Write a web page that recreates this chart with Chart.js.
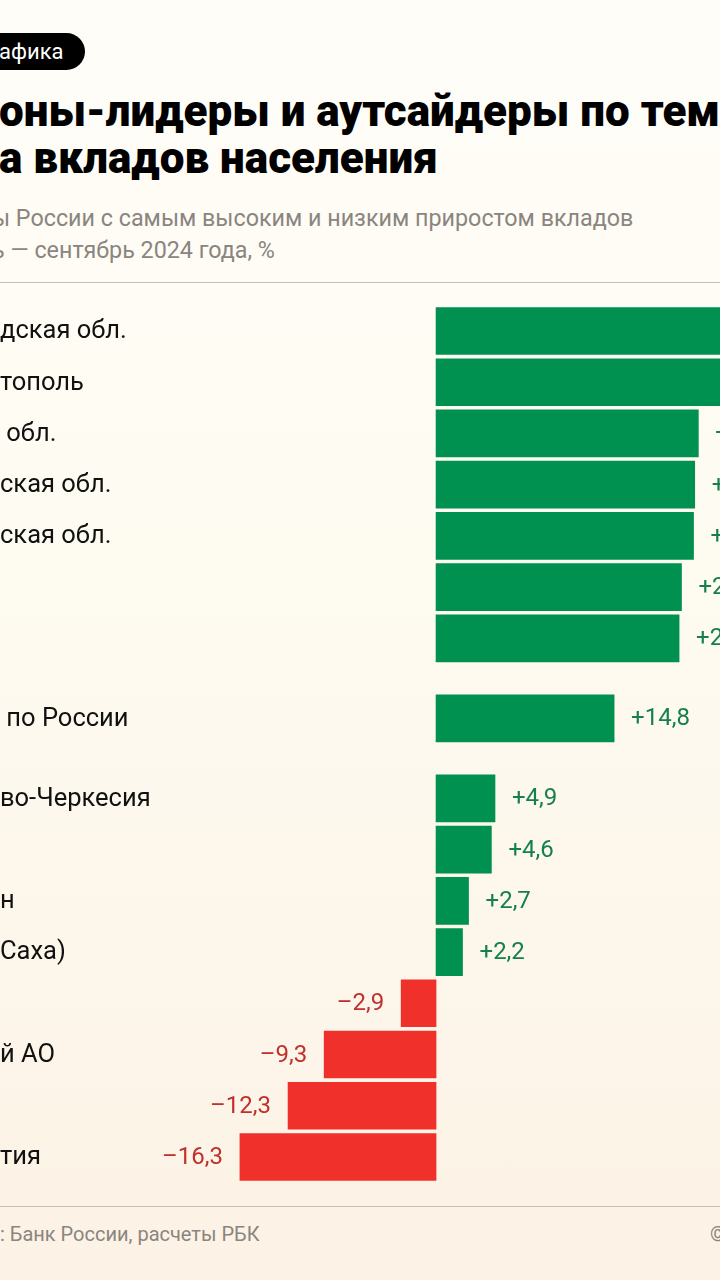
<!DOCTYPE html>
<html lang="ru">
<head>
<meta charset="utf-8">
<script src="https://cdn.jsdelivr.net/npm/chart.js@4/dist/chart.umd.min.js"></script>
<style>
  html, body { margin: 0; padding: 0; }
  body {
    width: 720px; height: 1280px; overflow: hidden; position: relative;
    background: linear-gradient(180deg, #fffdf8 0%, #fefbf1 45%, #fcf2e5 100%);
    font-family: Roboto, "Noto Sans", sans-serif;
  }
  .pill {
    position: absolute; left: -40px; top: 33px; height: 37px; width: 125px;
    background: #000; border-radius: 19px; color: #fff;
    font-size: 22px; line-height: 37px; padding-left: 39px; box-sizing: border-box;
  }
  .title {
    position: absolute; left: -1px; top: 88px; white-space: nowrap;
    font-weight: 900; font-size: 44px; line-height: 47px; color: #000;
  }
  .sub {
    position: absolute; left: -8px; top: 202px; white-space: nowrap;
    font-size: 23.3px; line-height: 32px; color: #8a857f;
  }
  .rule { position: absolute; left: 0; width: 720px; height: 1px; background: #c9c0b3; }
  .foot { position: absolute; left: 0; top: 1222px; font-size: 20px; color: #8a857f; white-space: nowrap; }
  .copy { position: absolute; left: 710px; top: 1222px; font-size: 20px; color: #8a857f; }
  #wrap { position: absolute; left: 0; top: 300px; width: 720px; height: 890px; }
</style>
</head>
<body>
<div class="pill">афика</div>
<div class="title">оны-лидеры и аутсайдеры по темпам<br>а вкладов населения</div>
<div class="sub">ы России с самым высоким и низким приростом вкладов<br>ь — сентябрь 2024 года, %</div>
<div class="rule" style="top:282px"></div>
<div class="rule" style="top:1206px"></div>
<div class="foot">: Банк России, расчеты РБК</div>
<div class="copy">©</div>
<div id="wrap"><canvas id="chart"></canvas></div>

<script>
// --- Data (labels are the visible parts of the cropped picture) ---
const regions = [
  "дская обл.", "тополь", " обл.", "ская обл.", "ская обл.", "", "",
  " по России",
  "во-Черкесия", "", "н", "Саха)",
  "", "й АО", "", "тия"
];
const growth = [26.5, 25.0, 21.8, 21.5, 21.4, 20.4, 20.2, 14.8, 4.9, 4.6, 2.7, 2.2, -2.9, -9.3, -12.3, -16.3];

// --- Colours ---
const GREEN = "#00904f";
const RED = "#ef302b";
const GREEN_TEXT = "#16804a";
const RED_TEXT = "#c0302c";

// row slots: extra gap around the "по России" row
const GAP = 0.5625;
function slot(i) {
  if (i < 7) return i;
  if (i === 7) return i + GAP;
  return i + 2 * GAP;
}

function fmt(v) {
  const s = Math.abs(v).toFixed(1).replace(".", ",");
  return (v >= 0 ? "+" : "\u2013") + s;
}

const points = growth.map(function (v, i) { return { x: v, y: slot(i) }; });

const labelsPlugin = {
  id: "barLabels",
  afterDatasetsDraw: function (chart) {
    const ctx = chart.ctx;
    const meta = chart.getDatasetMeta(0);
    ctx.save();
    ctx.textBaseline = "middle";
    meta.data.forEach(function (bar, i) {
      const v = growth[i];
      // category label at the left edge
      ctx.font = "25.5px Roboto, sans-serif";
      ctx.fillStyle = "#111";
      ctx.textAlign = "left";
      ctx.fillText(regions[i], 0, bar.y + 1);
      // value label
      ctx.font = "24px Roboto, sans-serif";
      if (v >= 0) {
        ctx.fillStyle = GREEN_TEXT;
        ctx.textAlign = "left";
        ctx.fillText(fmt(v), bar.x + 17, bar.y + 1);
      } else {
        ctx.fillStyle = RED_TEXT;
        ctx.textAlign = "right";
        ctx.fillText(fmt(v), bar.x - 17, bar.y + 1);
      }
    });
    ctx.restore();
  }
};

new Chart(document.getElementById("chart"), {
  type: "bar",
  data: {
    datasets: [{
      data: points,
      backgroundColor: growth.map(function (v) { return v >= 0 ? GREEN : RED; }),
      barThickness: 47,
      borderWidth: 0
    }]
  },
  options: {
    indexAxis: "y",
    responsive: true,
    maintainAspectRatio: false,
    animation: false,
    layout: { padding: 0 },
    plugins: { legend: { display: false }, tooltip: { enabled: false } },
    scales: {
      x: { type: "linear", min: -36.24, max: 23.6, display: false },
      y: { type: "linear", min: -0.605, max: 16.77, reverse: true, offset: false, display: false }
    }
  },
  plugins: [labelsPlugin]
});
</script>
</body>
</html>
